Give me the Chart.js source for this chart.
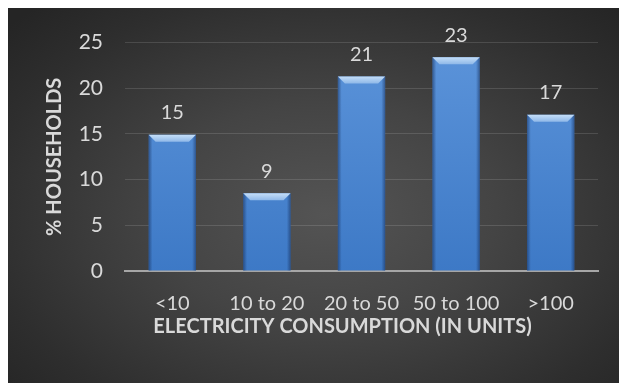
<!DOCTYPE html>
<html>
<head>
<meta charset="utf-8">
<script src="https://cdn.jsdelivr.net/npm/chart.js@4.4.1/dist/chart.umd.min.js"></script>
<style>
  html, body { margin: 0; padding: 0; background: #fff; }
  #wrap {
    position: absolute; left: 8px; top: 8px; width: 611px; height: 375px;
    background: radial-gradient(ellipse 70% 75% at 52% 55%, #545454 0%, #444 40%, #2e2e2e 80%, #252525 100%);
  }
</style>
</head>
<body>
<div id="wrap"><canvas id="chart" width="611" height="375"></canvas></div>
<script>
// -------------------- DADOS --------------------
const categorias = ['<10', '10 to 20', '20 to 50', '50 to 100', '>100'];
const valores = [14.9, 8.5, 21.3, 23.4, 17.1];
const ticksY = [0, 5, 10, 15, 20, 25];

const tituloX = 'ELECTRICITY CONSUMPTION (IN UNITS)';
const tituloY = '% HOUSEHOLDS';
const corTexto = '#d9d9d9';

// -------------------- PLUGIN: BISEL + RÓTULOS --------------------
const bisel = {
  id: 'bisel',
  afterDatasetsDraw(chart) {
    const ctx = chart.ctx;
    const meta = chart.getDatasetMeta(0);
    meta.data.forEach((bar, i) => {
      const l = bar.x - bar.width / 2;
      const r = bar.x + bar.width / 2;
      const t = bar.y;
      const b = bar.base;
      const e = 7;

      ctx.save();
      // bordas laterais mais escuras
      let g = ctx.createLinearGradient(l, 0, r, 0);
      g.addColorStop(0, 'rgba(20,45,90,0.55)');
      g.addColorStop(0.08, 'rgba(20,45,90,0.0)');
      g.addColorStop(0.92, 'rgba(20,45,90,0.0)');
      g.addColorStop(1, 'rgba(20,45,90,0.55)');
      ctx.fillStyle = g;
      ctx.fillRect(l, t, r - l, b - t);

      // topo chanfrado
      g = ctx.createLinearGradient(0, t, 0, t + e);
      g.addColorStop(0, '#c4def8');
      g.addColorStop(1, '#8fb8e8');
      ctx.fillStyle = g;
      ctx.beginPath();
      ctx.moveTo(l, t);
      ctx.lineTo(r, t);
      ctx.lineTo(r - e, t + e);
      ctx.lineTo(l + e, t + e);
      ctx.closePath();
      ctx.fill();

      // rótulo
      ctx.fillStyle = corTexto;
      ctx.font = '20px Lato';
      ctx.textAlign = 'center';
      ctx.textBaseline = 'middle';
      ctx.fillText(Math.round(valores[i]), bar.x, t - 22);
      ctx.restore();
    });

    // título do eixo X
    const a = chart.chartArea;
    ctx.save();
    ctx.fillStyle = corTexto;
    ctx.font = 'bold 20px Lato';
    ctx.textAlign = 'center';
    ctx.textBaseline = 'middle';
    ctx.fillText(tituloX, (a.left + a.right) / 2 - 19, 319);
    ctx.restore();
  }
};

// -------------------- GRÁFICO --------------------
new Chart(document.getElementById('chart'), {
  type: 'bar',
  data: {
    labels: categorias,
    datasets: [{
      data: valores,
      backgroundColor: (c) => {
        const a = c.chart.chartArea;
        if (!a) return '#4a86d0';
        const g = c.chart.ctx.createLinearGradient(0, a.top, 0, a.bottom);
        g.addColorStop(0, '#5c94da');
        g.addColorStop(1, '#3d79c6');
        return g;
      },
      borderWidth: 0,
      barPercentage: 1,
      categoryPercentage: 0.5
    }]
  },
  options: {
    responsive: false,
    animation: false,
    events: [],
    layout: { padding: { left: 30, top: 29.7, right: 21, bottom: 42.4 } },
    plugins: {
      legend: { display: false },
      tooltip: { enabled: false }
    },
    scales: {
      x: {
        afterFit: (s) => { s.height = 69.6; },
        grid: { display: false, drawTicks: false },
        border: { color: '#a6a6a6', width: 2 },
        ticks: {
          color: corTexto, padding: 21, maxRotation: 0, minRotation: 0, autoSkip: false,
          font: { family: 'Lato', size: 20 }
        }
      },
      y: {
        min: 0,
        max: 25,
        afterFit: (s) => { s.width = 87; },
        afterBuildTicks: (s) => { s.ticks = ticksY.map(v => ({ value: v })); },
        grid: { color: 'rgba(255,255,255,0.13)', drawTicks: false },
        border: { display: false },
        ticks: { color: corTexto, padding: 22, font: { family: 'Lato', size: 21 } },
        title: {
          display: true,
          text: tituloY,
          color: corTexto,
          padding: { top: 5, bottom: 0 },
          font: { family: 'Lato', size: 20, weight: 'bold' }
        }
      }
    }
  },
  plugins: [bisel]
});
</script>
</body>
</html>
